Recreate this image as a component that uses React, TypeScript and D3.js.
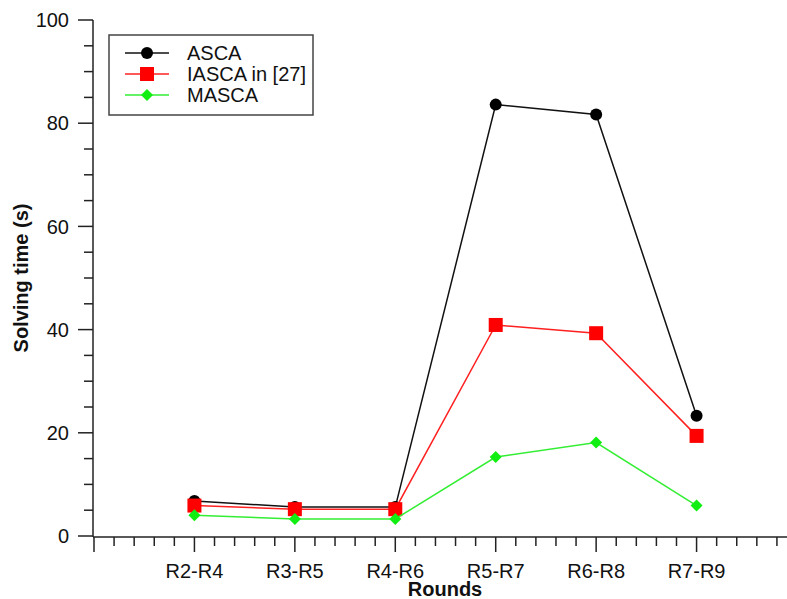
import React from 'react';
import * as d3 from 'd3';

const rounds = ['R2-R4', 'R3-R5', 'R4-R6', 'R5-R7', 'R6-R8', 'R7-R9'];
const asca = [6.8, 5.6, 5.6, 83.6, 81.7, 23.3];
const iasca = [5.9, 5.2, 5.2, 40.9, 39.3, 19.4];
const masca = [4.0, 3.3, 3.3, 15.3, 18.1, 5.9];
const yTicks = [0, 20, 40, 60, 80, 100];

const font = '"Liberation Sans", Arial, Helvetica, sans-serif';

const series = [
    { name: 'ASCA', values: asca, color: '#000000', line: '#111111', shape: 'circle' },
    { name: 'IASCA in [27]', values: iasca, color: '#ff0000', line: '#ff2020', shape: 'square' },
    { name: 'MASCA', values: masca, color: '#11ee11', line: '#33ee33', shape: 'diamond' },
];

const Marker = ({ shape, x, y, color }) => {
    if (shape === 'circle') return <circle cx={x} cy={y} r={6} fill={color} />;
    if (shape === 'square') return <rect x={x - 7} y={y - 7} width={14} height={14} fill={color} />;
    return <path d={`M${x},${y - 6}L${x + 6},${y}L${x},${y + 6}L${x - 6},${y}Z`} fill={color} />;
};

const App = () => {
    const width = 787, height = 599;
    // category i sits at x = i + 1 on a 0..7 linear axis
    const x = d3.scaleLinear().domain([0, 7]).range([94, 797]);
    const y = d3.scaleLinear().domain([0, 100]).range([536, 20]);
    const axisY = 537;

    const line = d3.line<number>()
        .x((d, i) => x(i + 1))
        .y(d => y(d));

    const xMinor = d3.range(0, 35).map(i => i / 5);
    const yMinor = d3.range(0, 101, 5);

    return (
        <svg width={width} height={height} style={{ position: 'absolute', left: 0, top: 0, background: '#fff' }}
            fontFamily={font}>
            {/* y axis */}
            <line x1={93} x2={93} y1={y(100)} y2={axisY} stroke="#222" strokeWidth={1.5} />
            {yMinor.map(v => (
                <line key={'ym' + v} x1={v % 20 === 0 ? 78 : 84} x2={93} y1={y(v)} y2={y(v)}
                    stroke="#222" strokeWidth={1.5} />
            ))}
            {yTicks.map(v => (
                <text key={'yl' + v} x={69} y={y(v)} dy="0.36em" textAnchor="end" fontSize={20} fill="#111">{v}</text>
            ))}
            <text transform={`translate(28,${y(50)}) rotate(-90)`} textAnchor="middle" fontSize={20}
                fontWeight="bold" fill="#111">Solving time (s)</text>

            {/* x axis */}
            <line x1={93} x2={width} y1={axisY} y2={axisY} stroke="#222" strokeWidth={1.5} />
            {xMinor.map(v => {
                const major = Math.abs(v - Math.round(v)) < 1e-6;
                return <line key={'xm' + v} x1={x(v)} x2={x(v)} y1={axisY} y2={major ? 552 : 546}
                    stroke="#222" strokeWidth={1.5} />;
            })}
            {rounds.map((r, i) => (
                <text key={r} x={x(i + 1)} y={571} dy="0.36em" textAnchor="middle" fontSize={20} fill="#111">{r}</text>
            ))}
            <text x={445} y={589} dy="0.36em" textAnchor="middle" fontSize={20} fontWeight="bold" fill="#111">Rounds</text>

            {/* series */}
            {series.map(s => (
                <g key={s.name}>
                    <path d={line(s.values) || ''} fill="none" stroke={s.line} strokeWidth={1.5} />
                    {s.values.map((v, i) => (
                        <Marker key={i} shape={s.shape} x={x(i + 1)} y={y(v)} color={s.color} />
                    ))}
                </g>
            ))}

            {/* legend */}
            <rect x={109} y={35} width={204} height={80} fill="#fff" stroke="#444" strokeWidth={1.5} />
            {series.map((s, i) => {
                const ly = 53 + i * 21;
                return (
                    <g key={'lg' + s.name}>
                        <line x1={125} x2={169} y1={ly} y2={ly} stroke={s.line} strokeWidth={1.5} />
                        <Marker shape={s.shape} x={147} y={ly} color={s.color} />
                        <text x={187} y={ly} dy="0.36em" fontSize={20} fill="#111">{s.name}</text>
                    </g>
                );
            })}
        </svg>
    );
};

export default App;
